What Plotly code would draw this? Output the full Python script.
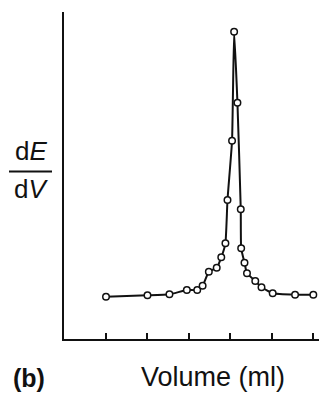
import plotly.graph_objects as go

volume = [1.0, 2.0, 2.53, 2.95, 3.2, 3.33, 3.48, 3.67, 3.78, 3.88, 3.93, 4.04, 4.09,
          4.17, 4.25, 4.26, 4.34, 4.40, 4.60, 4.75, 5.02, 5.56, 6.0]
dEdV = [42.3, 43.7, 44.7, 49, 49, 53.3, 67.3, 71.3, 81.7, 95.7, 139, 198.3, 307.3,
        236.3, 129.7, 90.7, 76.3, 65.7, 58, 51.7, 45.7, 44.3, 44.3]
tick_vals = [1, 2, 3, 4, 5, 6]

# page body adds an 8px margin; compensate so the figure lands on the window
OFF = 8
W, H = 327 - OFF, 395 - OFF
L, T = 64 - OFF, 12 - OFF
B = H - (339 - OFF)
R = 0
pw, ph = W - L - R, H - T - B

def px(x):
    return (x - OFF - L) / pw

def py(y):
    return (H - B - (y - OFF)) / ph

FONT = "Liberation Sans, Arial, sans-serif"

fig = go.Figure()
fig.add_trace(go.Scatter(
    x=volume, y=dEdV, mode="lines+markers",
    line=dict(color="#111", width=2, shape="spline", smoothing=0.4),
    marker=dict(symbol="circle", size=6.5, color="white",
                line=dict(color="#111", width=1.5)),
    hoverinfo="skip", showlegend=False))

fig.update_layout(
    width=W, height=H,
    margin=dict(l=L, r=R, t=T, b=B),
    paper_bgcolor="white", plot_bgcolor="white",
    font=dict(family=FONT, color="#111"),
    xaxis=dict(range=[-0.013, 6.33], showgrid=False, zeroline=False,
               showline=True, linecolor="#111", linewidth=2,
               ticks="inside", ticklen=6, tickwidth=2, tickcolor="#111",
               tickvals=tick_vals, showticklabels=False, fixedrange=True),
    yaxis=dict(range=[0, 327], showgrid=False, zeroline=False,
               showline=True, linecolor="#111", linewidth=2,
               ticks="", showticklabels=False, fixedrange=True),
)

annos = [
    dict(text="d<i>E</i>", x=px(31), y=py(151), size=26),
    dict(text="d<i>V</i>", x=px(31), y=py(189), size=26),
    dict(text="<b>(b)</b>", x=px(29), y=py(378), size=25),
    dict(text="Volume (ml)", x=px(213), y=py(377), size=27),
]
for a in annos:
    fig.add_annotation(text=a["text"], x=a["x"], y=a["y"], xref="paper", yref="paper",
                       showarrow=False, xanchor="center", yanchor="middle",
                       font=dict(size=a["size"], color="#111", family=FONT))

fig.add_shape(type="line", xref="paper", yref="paper",
              x0=px(9), x1=px(52), y0=py(171.5), y1=py(171.5),
              line=dict(color="#111", width=2))

fig.write_html("out.html")
